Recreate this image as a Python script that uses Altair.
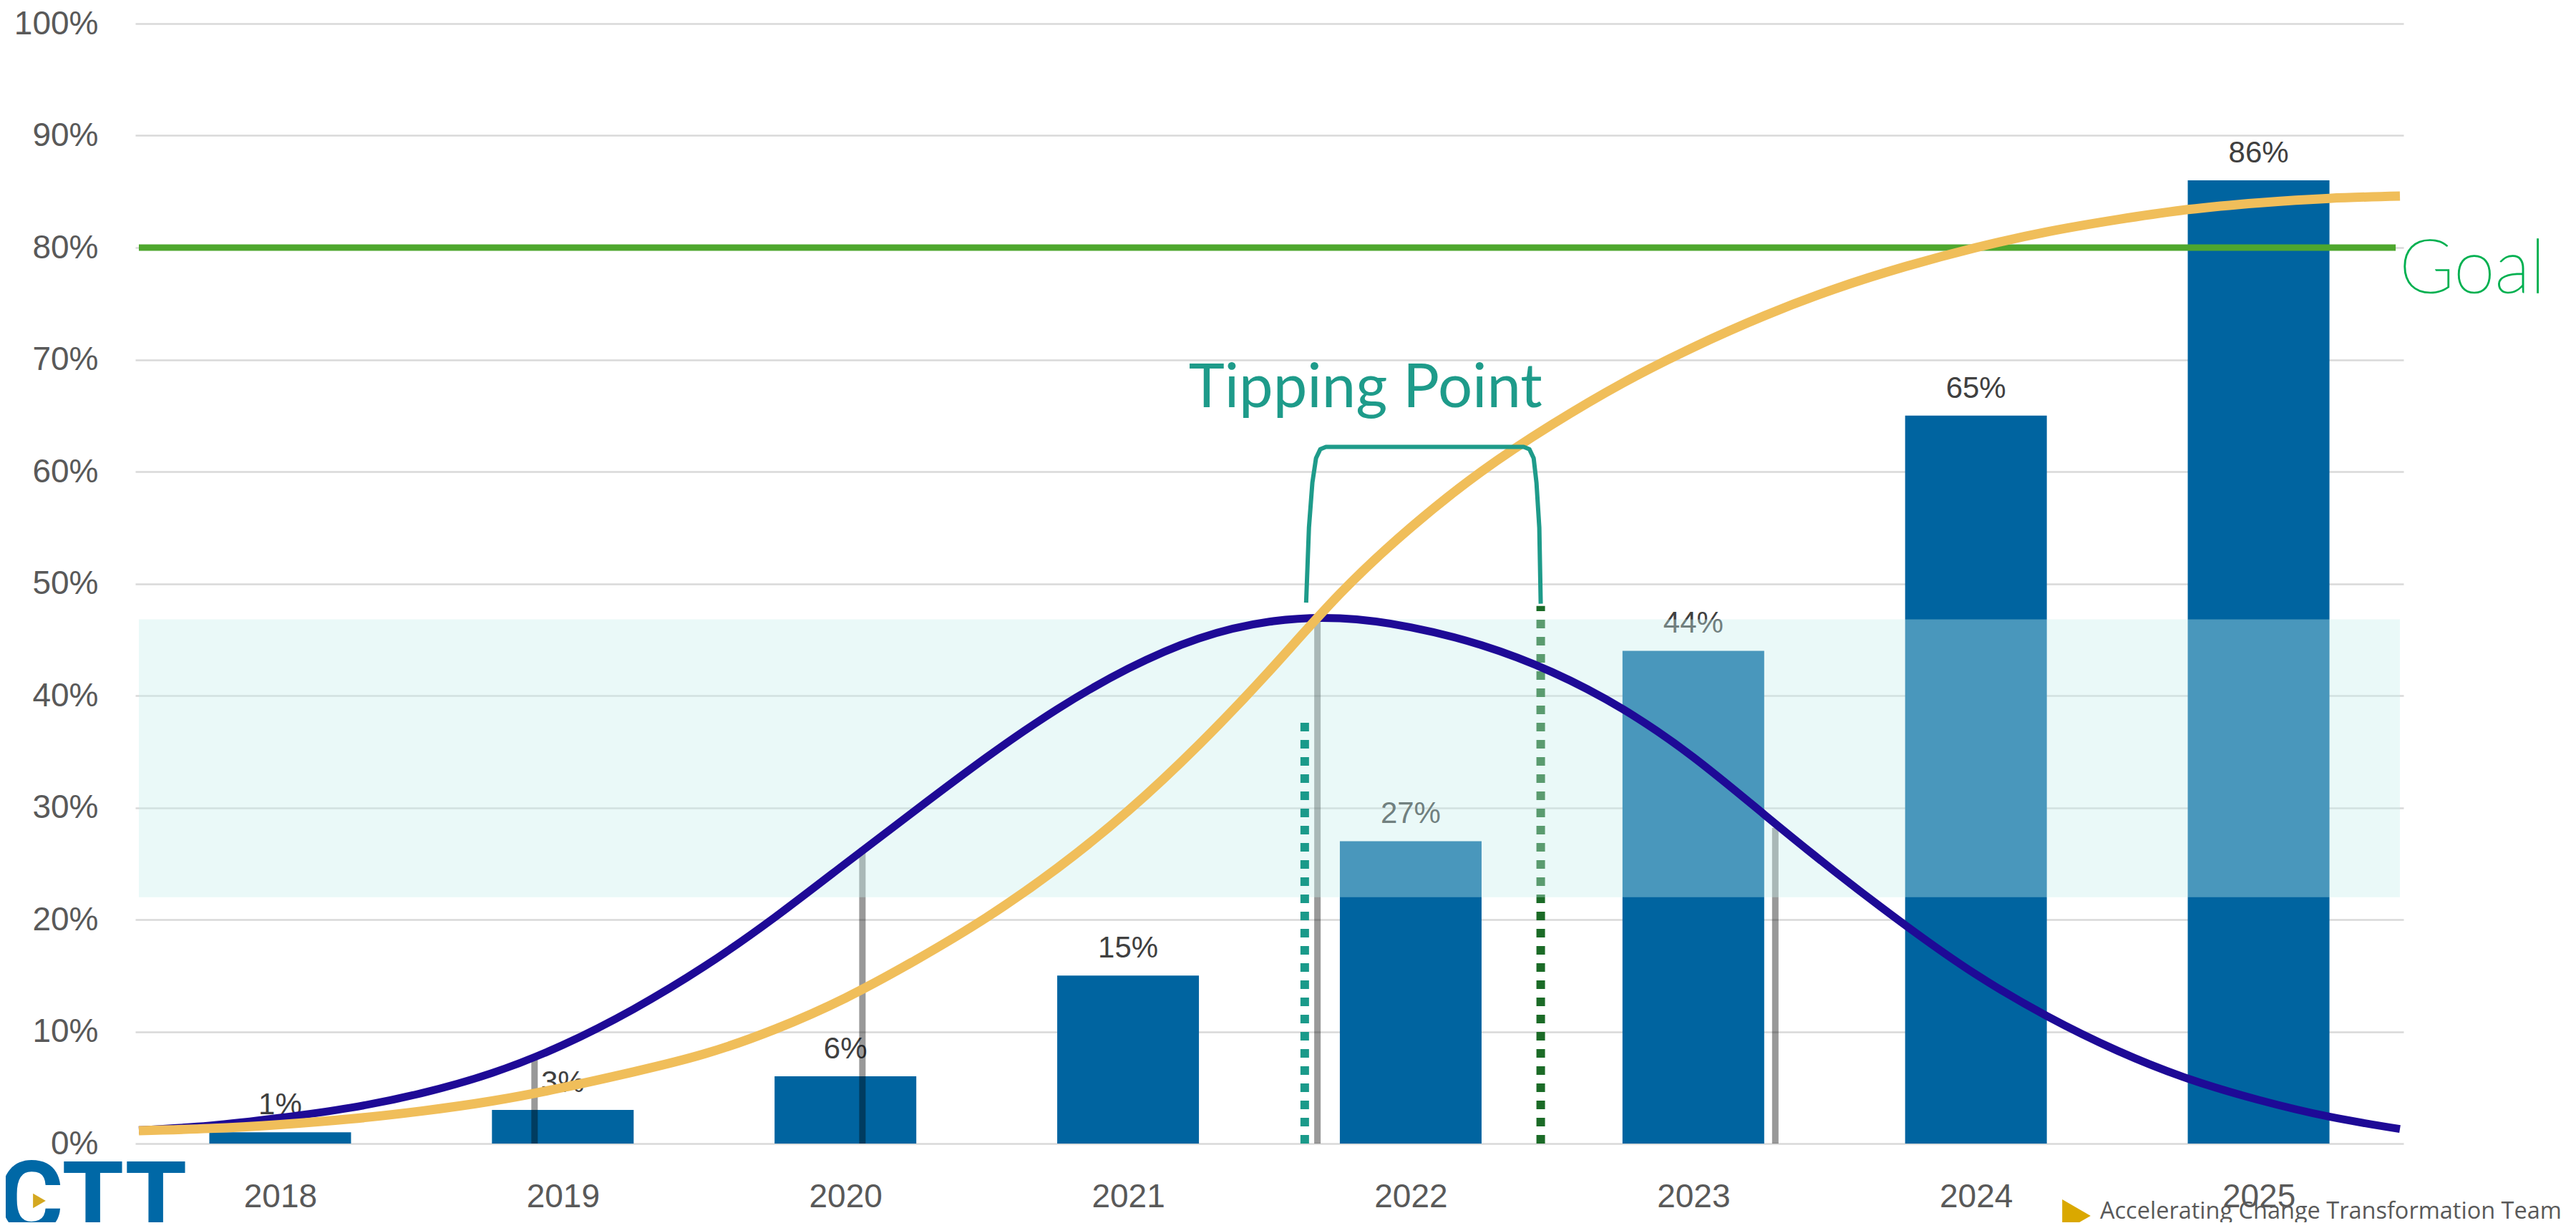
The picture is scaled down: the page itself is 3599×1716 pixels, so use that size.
import altair as alt
import pandas as pd

# ---------------- data ----------------
years = [2018, 2019, 2020, 2021, 2022, 2023, 2024, 2025]
adoption = [1, 3, 6, 15, 27, 44, 65, 86]

# bell (diffusion) curve, purple
bell_x = [2017.5, 2017.75, 2018.0, 2018.25, 2018.5, 2018.75, 2019.0, 2019.25, 2019.5,
          2019.75, 2020.0, 2020.25, 2020.5, 2020.75, 2021.0, 2021.25, 2021.5, 2021.75,
          2022.0, 2022.25, 2022.5, 2022.75, 2023.0, 2023.25, 2023.5, 2023.75, 2024.0,
          2024.25, 2024.5, 2024.75, 2025.0, 2025.25, 2025.5]
bell_y = [1.2, 1.6, 2.3, 3.2, 4.5, 6.3, 8.8, 12.0, 15.8,
          20.2, 25.0, 29.8, 34.5, 38.8, 42.4, 45.1, 46.6, 46.9,
          46.1, 44.5, 42.1, 38.8, 34.5, 29.4, 24.3, 19.5, 15.1,
          11.4, 8.3, 5.8, 3.9, 2.4, 1.3]

# S (cumulative adoption) curve, orange
s_x = [2017.5, 2017.75, 2018.0, 2018.25, 2018.5, 2018.75, 2019.0, 2019.25, 2019.5,
       2019.75, 2020.0, 2020.25, 2020.5, 2020.75, 2021.0, 2021.25, 2021.5, 2021.75,
       2022.0, 2022.25, 2022.5, 2022.75, 2023.0, 2023.25, 2023.5, 2023.75,
       2024.0, 2024.25, 2024.5, 2024.75, 2025.0, 2025.25, 2025.5]
s_y = [1.15, 1.35, 1.7, 2.2, 2.9, 3.8, 5.0, 6.4, 8.0,
       10.2, 13.0, 16.4, 20.2, 24.6, 29.7, 35.6, 42.2, 49.1,
       55.0, 60.0, 64.2, 67.9, 71.1, 73.9, 76.3, 78.3,
       80.0, 81.4, 82.5, 83.4, 84.0, 84.4, 84.6]

# grey drop lines under the bell curve
drop_x = [2018.9, 2020.06, 2021.67, 2023.29]
drop_top = [7.7, 26.4, 47.0, 28.2]

# tipping point annotation
tip_left_x, tip_left_top = 2021.625, 38.0
tip_right_x, tip_right_top = 2022.46, 48.0
bracket_x = [2021.630, 2021.640, 2021.652, 2021.665, 2021.680, 2021.700,
             2022.400, 2022.420, 2022.435, 2022.445, 2022.455, 2022.460]
bracket_y = [48.3, 55.0, 59.0, 61.2, 62.0, 62.2,
             62.2, 62.0, 61.2, 59.0, 55.0, 48.2]
tip_label = "Tipping Point"
tip_label_x, tip_label_y = 2021.84, 65.75

band_lo, band_hi = 22.0, 46.8
goal = 80
goal_label = "Goal"
x_lo, x_hi = 2017.5, 2025.5

# ---------------- styling ----------------
W, H = 3169, 1565
BAR_BLUE = "#0064A0"
PURPLE = "#1E0A96"
ORANGE = "#F0BE5A"
TEAL = "#1E9B8A"
GRID = "#D9D9D9"
LABEL = "#595959"

xs = alt.Scale(domain=[x_lo, x_hi], nice=False, zero=False)
ys = alt.Scale(domain=[0, 100], nice=False)

x_axis = alt.Axis(values=years, format="d", grid=False, ticks=False, domain=False,
                  labelFont="Liberation Sans", labelFontSize=46, labelColor=LABEL,
                  labelPadding=74, labelBaseline="middle", labelFlush=False, title=None)
y_axis = alt.Axis(values=list(range(0, 101, 10)), labelExpr="datum.value + '%'",
                  grid=True, gridColor=GRID, gridWidth=2.5, ticks=False, tickSize=0,
                  domain=False, labelFont="Liberation Sans", labelFontSize=46,
                  labelColor=LABEL, labelPadding=52, title=None)


def X(field="x"):
    return alt.X(f"{field}:Q", scale=xs, axis=x_axis)


def Y(field="y"):
    return alt.Y(f"{field}:Q", scale=ys, axis=y_axis)


bars_df = pd.DataFrame({"x": years, "y": adoption})
bars_df["label"] = bars_df["y"].astype(str) + "%"

bars = alt.Chart(bars_df).mark_bar(color=BAR_BLUE, size=198).encode(x=X(), y=Y())
bar_labels = alt.Chart(bars_df).mark_text(
    dy=-25, baseline="alphabetic", align="center", font="Liberation Sans",
    fontSize=42, color="#404040").encode(x=X(), y=Y(), text="label:N")

drops_df = pd.DataFrame({"x": drop_x, "y": [0] * len(drop_x), "y2": drop_top})
drops = alt.Chart(drops_df).mark_rule(color="black", opacity=0.4, strokeWidth=9).encode(
    x=X(), y=Y(), y2="y2:Q")

green_df = pd.DataFrame({"x": [tip_right_x], "y": [0], "y2": [tip_right_top]})
green_dots = alt.Chart(green_df).mark_rule(
    color="#1B6B27", strokeWidth=12, strokeDash=[12, 12], strokeCap="butt").encode(
    x=X(), y=Y(), y2="y2:Q")

band_df = pd.DataFrame({"x": [x_lo], "x2": [x_hi], "y": [band_lo], "y2": [band_hi]})
band = alt.Chart(band_df).mark_rect(color="#C6EFEC", opacity=0.37).encode(
    x=X(), x2="x2:Q", y=Y(), y2="y2:Q")

teal_df = pd.DataFrame({"x": [tip_left_x], "y": [0], "y2": [tip_left_top]})
teal_dots = alt.Chart(teal_df).mark_rule(
    color="#1A9A8A", strokeWidth=12, strokeDash=[12, 12], strokeCap="butt").encode(
    x=X(), y=Y(), y2="y2:Q")

goal_df = pd.DataFrame({"x": [x_lo], "x2": [x_hi - 0.015], "y": [goal],
                        "label": [goal_label]})
goal_rule = alt.Chart(goal_df).mark_rule(color="#4EA72E", strokeWidth=9).encode(
    x=X(), x2="x2:Q", y=Y())
goal_text = alt.Chart(goal_df).mark_text(
    align="left", baseline="alphabetic", dx=5, dy=63, font="Lato", fontWeight=100,
    fontSize=104, color="#00B050", stroke="#00B050", strokeWidth=1.6).encode(
    x=X("x2"), y=Y(), text="label:N")

bell_df = pd.DataFrame({"x": bell_x, "y": bell_y})
bell = alt.Chart(bell_df).mark_line(color=PURPLE, strokeWidth=11,
                                    interpolate="natural").encode(x=X(), y=Y())

s_df = pd.DataFrame({"x": s_x, "y": s_y})
s_curve = alt.Chart(s_df).mark_line(color=ORANGE, strokeWidth=13,
                                    interpolate="natural").encode(x=X(), y=Y())

br_df = pd.DataFrame({"x": bracket_x, "y": bracket_y, "i": list(range(len(bracket_x)))})
bracket = alt.Chart(br_df).mark_line(color=TEAL, strokeWidth=6, strokeJoin="round").encode(
    x=X(), y=Y(), order="i:Q")

tip_df = pd.DataFrame({"x": [tip_label_x], "y": [tip_label_y], "label": [tip_label]})
tip_text = alt.Chart(tip_df).mark_text(
    align="center", baseline="alphabetic", font="Lato", fontSize=85, color=TEAL).encode(
    x=X(), y=Y(), text="label:N")

# ---------------- branding (logo and footer) ----------------
one = pd.DataFrame({"k": [0]})
logo = alt.Chart(one).mark_text(
    align="left", baseline="alphabetic", font="Roboto", fontWeight="bold",
    fontSize=140, color="#0068A6").encode(
    x=alt.value(-192), y=alt.value(1689), text=alt.value("CTT"))
logo_tri = alt.Chart(one).mark_point(
    shape="triangle-right", filled=True, size=420, color="#D4A820", opacity=1).encode(
    x=alt.value(-134), y=alt.value(1645))
foot_tri = alt.Chart(one).mark_point(
    shape="triangle-right", filled=True, size=2100, color="#DAA800", opacity=1).encode(
    x=alt.value(2712), y=alt.value(1666))
foot_text = alt.Chart(one).mark_text(
    align="left", baseline="alphabetic", font="Open Sans", fontSize=32.5,
    color=LABEL).encode(
    x=alt.value(2745), y=alt.value(1670),
    text=alt.value("Accelerating Change Transformation Team"))

chart = alt.layer(
    bars, bar_labels, drops, green_dots, band, teal_dots, goal_rule,
    bell, s_curve, bracket, tip_text, goal_text,
    logo, logo_tri, foot_tri, foot_text
).properties(
    width=W, height=H,
    padding={"left": 181, "top": 25, "right": 230, "bottom": 110},
    autosize=alt.AutoSizeParams(type="none"),
    background="white",
).configure_view(stroke=None)

chart.save("out.html", embed_options={"renderer": "svg", "actions": False})
